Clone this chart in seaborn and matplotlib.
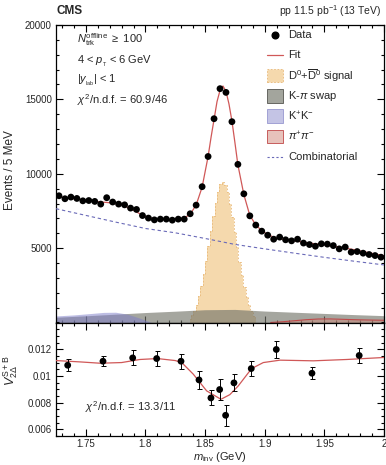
import numpy as np
import pandas as pd
import matplotlib
matplotlib.use("Agg")
import matplotlib.pyplot as plt
import seaborn as sns
from matplotlib.patches import Rectangle
from matplotlib.lines import Line2D
from matplotlib.ticker import MultipleLocator, FuncFormatter

# ---------------- data ----------------
bin_m = [1.7275 + 0.005 * k for k in range(55)]
data_counts = [8520, 8320, 8430, 8340, 8180, 8200, 8140, 7960, 8390, 8100,
               7960, 7910, 7690, 7600, 7190, 7020, 6900, 6950, 6950, 6880,
               6950, 6950, 7310, 7890, 9130, 11160, 13700, 15720, 15470, 13500,
               10630, 8650, 7170, 6550, 6140, 5870, 5600, 5740, 5560, 5490,
               5600, 5340, 5240, 5130, 5290, 5270, 5170, 4950, 5070, 4730,
               4770, 4660, 4570, 4500, 4390]

fit_m = [1.725, 1.7275, 1.7325, 1.7375, 1.7425, 1.7475, 1.7525, 1.7575, 1.7625, 1.7675,
         1.7725, 1.7775, 1.7825, 1.7875, 1.7925, 1.7975, 1.8025, 1.8075, 1.8125, 1.8175,
         1.8225, 1.8275, 1.8325, 1.8375, 1.8425, 1.8475, 1.8525, 1.855, 1.8575, 1.86,
         1.8625, 1.865, 1.8675, 1.87, 1.8725, 1.875, 1.8775, 1.8825, 1.8875, 1.8925,
         1.8975, 1.9025, 1.9075, 1.9125, 1.9175, 1.9225, 1.9275, 1.9325, 1.9375, 1.9425,
         1.9475, 1.9525, 1.9575, 1.9625, 1.9675, 1.9725, 1.9775, 1.9825, 1.9875, 1.9925,
         1.9975, 2.0]
fit_counts = [8470, 8450, 8400, 8350, 8300, 8250, 8200, 8150, 8100, 8070,
              8030, 7950, 7830, 7650, 7430, 7220, 7060, 6970, 6930, 6920,
              6930, 6960, 7030, 7280, 7900, 9100, 11150, 12450, 13650, 14850,
              15600, 15900, 15550, 14700, 13550, 12100, 10600, 8600, 7200, 6560,
              6170, 5910, 5740, 5640, 5570, 5510, 5460, 5400, 5340, 5290,
              5240, 5190, 5130, 5070, 5000, 4930, 4850, 4770, 4690, 4610,
              4530, 4490]

comb_m = [1.725, 1.75, 1.775, 1.80, 1.825, 1.85, 1.875, 1.90, 1.925, 1.95, 1.975, 2.0]
comb_counts = [7650, 7200, 6750, 6320, 6030, 5650, 5250, 4950, 4660, 4380, 4120, 3870]

swap_m = [1.725, 1.75, 1.775, 1.80, 1.825, 1.85, 1.875, 1.90, 1.925, 1.95, 1.975, 2.0]
swap_counts = [350, 450, 560, 670, 760, 860, 880, 770, 690, 610, 530, 460]

kk_m = [1.725, 1.74, 1.755, 1.765, 1.775, 1.785, 1.795, 1.805]
kk_counts = [440, 510, 610, 680, 690, 560, 300, 0]

pipi_m = [1.905, 1.915, 1.925, 1.935, 1.945, 1.955, 1.965, 1.975, 1.985, 2.0]
pipi_counts = [0, 50, 120, 190, 235, 240, 215, 190, 170, 150]

sig_m = [1.837 + 0.002 * i for i in range(29)]
sig_counts = [250, 500, 800, 1200, 1750, 2450, 3250, 4150, 5150, 6150,
              7150, 8050, 8800, 9300, 9450, 9250, 8750, 8000, 7100, 6100,
              5100, 4100, 3200, 2400, 1700, 1150, 750, 450, 220]

v2_m = [1.7348, 1.7644, 1.7893, 1.8094, 1.8298, 1.8449, 1.8549, 1.8622, 1.8672,
        1.8742, 1.8887, 1.9097, 1.9396, 1.9792]
v2_val = [0.0108, 0.0111, 0.01135, 0.0113, 0.0111, 0.0097, 0.00835, 0.00898, 0.00705,
          0.00948, 0.01055, 0.01198, 0.0102, 0.01153]
v2_err = [0.00045, 0.000375, 0.00056, 0.00059, 0.00057, 0.0007, 0.00056, 0.00079,
          0.00078, 0.00063, 0.00059, 0.00066, 0.00046, 0.00053]

v2fit_m = [1.725, 1.745, 1.762, 1.78, 1.7954, 1.81, 1.825, 1.8304, 1.8401, 1.8513,
           1.8633, 1.8708, 1.8778, 1.889, 1.8988, 1.9128, 1.9407, 1.9687, 2.0]
v2fit_val = [0.01115, 0.01105, 0.01095, 0.0110, 0.01123, 0.0113, 0.01115, 0.0110, 0.01013,
             0.00888, 0.00825, 0.0086, 0.00925, 0.01055, 0.0110, 0.01118, 0.01113,
             0.01123, 0.01138]

# ---------------- style ----------------
sns.set_theme(style="ticks")
plt.rcParams['font.family'] = ['Liberation Sans', 'DejaVu Sans']
plt.rcParams['mathtext.fontset'] = 'custom'
plt.rcParams['mathtext.rm'] = 'Liberation Sans'
plt.rcParams['mathtext.it'] = 'Liberation Sans:italic'
plt.rcParams['mathtext.bf'] = 'Liberation Sans:bold'
plt.rcParams['mathtext.sf'] = 'Liberation Sans'

C_FIT = '#d05858'
C_SIG = '#f5d9ad'
C_SIG_EDGE = '#e8b878'
C_SWAP = '#75766c'
C_KK = '#7c7cc8'
C_PIPI = '#d08878'
C_COMB = '#6a6ab8'

fig = plt.figure(figsize=(3.86, 4.65), dpi=100)
L, W = 56 / 386, 328 / 386
ax1 = fig.add_axes([L, 1 - 322.5 / 465, W, 297.5 / 465])
ax2 = fig.add_axes([L, 1 - 436 / 465, W, 113.5 / 465])

# ---------------- top panel ----------------
ax1.fill_between(sig_m, sig_counts, step='mid', color=C_SIG, lw=0, zorder=1)
ax1.step(sig_m, sig_counts, where='mid', color=C_SIG_EDGE, lw=0.6, ls=(0, (2, 2)), zorder=1.1)
ax1.fill_between(swap_m, swap_counts, color=C_SWAP, alpha=0.65, lw=0, zorder=2)
ax1.fill_between(kk_m, kk_counts, color=C_KK, alpha=0.5, lw=0, zorder=2.1)
ax1.fill_between(pipi_m, pipi_counts, color=C_PIPI, alpha=0.45, lw=0, zorder=2.2)
ax1.plot(pipi_m, pipi_counts, color='#c04848', lw=0.8, zorder=2.3)

sns.lineplot(x=comb_m, y=comb_counts, ax=ax1, color=C_COMB, lw=0.8,
             linestyle=(0, (3, 2.5)), estimator=None, sort=False, zorder=3)
sns.lineplot(x=fit_m, y=fit_counts, ax=ax1, color=C_FIT, lw=0.9,
             estimator=None, sort=False, zorder=4)
df = pd.DataFrame({'m': bin_m, 'n': data_counts})
sns.scatterplot(data=df, x='m', y='n', ax=ax1, color='black', s=24,
                edgecolor='none', zorder=5)

ax1.set_xlim(1.725, 2.0)
ax1.set_ylim(0, 20000)
ax1.set_yticks([5000, 10000, 15000, 20000])
ax1.yaxis.set_minor_locator(MultipleLocator(1000))
ax1.xaxis.set_major_locator(MultipleLocator(0.05))
ax1.xaxis.set_minor_locator(MultipleLocator(0.01))
ax1.tick_params(labelbottom=False)
ax1.set_xlabel('')
ax1.set_ylabel('')

# annotations
tk = dict(transform=ax1.transAxes, fontsize=8, va='center', ha='left')
ax1.text(0.063, 0.95, r'$N_{\mathrm{trk}}^{\mathrm{offline}}$ $\geq$ 100', **tk)
ax1.text(0.063, 0.876, r'4 < $p_{_{\mathrm{T}}}$ < 6 GeV', **tk)
ax1.text(0.063, 0.815, r'|$y_{_{\mathrm{lab}}}$| < 1', **tk)
ax1.text(0.063, 0.748, r'$\chi^2$/n.d.f. = 60.9/46', **tk)

# manual legend
rows = [35, 55.3, 75.6, 96, 116.3, 136.6, 157]
ry = [(322.5 - r) / 297.5 for r in rows]
hx0, hx1 = 0.644, 0.693
hh = 0.046
lk = dict(transform=ax1.transAxes, fontsize=8, va='center', ha='left')
ax1.add_line(Line2D([0.668], [ry[0]], marker='o', ms=4.8, color='black', lw=0,
                    transform=ax1.transAxes))
ax1.add_line(Line2D([hx0, hx1], [ry[1], ry[1]], color=C_FIT, lw=0.9, transform=ax1.transAxes))
ax1.add_patch(Rectangle((hx0, ry[2] - hh / 2), hx1 - hx0, hh, transform=ax1.transAxes,
                        facecolor=C_SIG, edgecolor=C_SIG_EDGE, lw=0.6, ls=(0, (2, 2))))
ax1.add_patch(Rectangle((hx0, ry[3] - hh / 2), hx1 - hx0, hh, transform=ax1.transAxes,
                        facecolor=(0.55, 0.56, 0.52, 0.8), edgecolor='#555550', lw=0.6))
ax1.add_patch(Rectangle((hx0, ry[4] - hh / 2), hx1 - hx0, hh, transform=ax1.transAxes,
                        facecolor=(0.49, 0.49, 0.78, 0.45), edgecolor='#9898d0', lw=0.6))
ax1.add_patch(Rectangle((hx0, ry[5] - hh / 2), hx1 - hx0, hh, transform=ax1.transAxes,
                        facecolor=(0.82, 0.53, 0.47, 0.5), edgecolor='#c04848', lw=0.6))
ax1.add_line(Line2D([hx0, hx1], [ry[6], ry[6]], color=C_COMB, lw=0.8, ls=(0, (2, 2)),
                    transform=ax1.transAxes))
ax1.text(0.707, ry[0], 'Data', **lk)
ax1.text(0.707, ry[1], 'Fit', **lk)
ax1.text(0.707, ry[2], r'D$^0$+$\overline{\mathrm{D}}^0$ signal', **lk)
ax1.text(0.707, ry[3], r'K-$\pi$ swap', **lk)
ax1.text(0.707, ry[4], r'K$^{+}$K$^{-}$', **lk)
ax1.text(0.707, ry[5], r'$\pi^{+}\pi^{-}$', **lk)
ax1.text(0.707, ry[6], 'Combinatorial', **lk)

# ---------------- bottom panel ----------------
ax2.errorbar(v2_m, v2_val, yerr=v2_err, fmt='none', ecolor='black', elinewidth=0.7,
             capsize=1.8, capthick=0.7, zorder=4)
sns.lineplot(x=v2fit_m, y=v2fit_val, ax=ax2, color=C_FIT, lw=0.9,
             estimator=None, sort=False, zorder=3)
sns.scatterplot(x=v2_m, y=v2_val, ax=ax2, color='black', s=24, edgecolor='none', zorder=5)
ax2.set_xlim(1.725, 2.0)
ax2.set_ylim(0.0055, 0.014)
ax2.set_yticks([0.006, 0.008, 0.010, 0.012])
ax2.yaxis.set_minor_locator(MultipleLocator(0.0005))
ax2.xaxis.set_major_locator(MultipleLocator(0.05))
ax2.xaxis.set_minor_locator(MultipleLocator(0.01))
fmt = FuncFormatter(lambda v, p: '%g' % round(v, 4))
ax2.yaxis.set_major_formatter(fmt)
ax2.xaxis.set_major_formatter(fmt)
ax2.set_xlabel('')
ax2.set_ylabel('')
ax2.text(0.088, 0.258, r'$\chi^2$/n.d.f. = 13.3/11', transform=ax2.transAxes,
         fontsize=8, va='center', ha='left')

for ax in (ax1, ax2):
    ax.tick_params(which='both', direction='in', top=True, right=True, labelsize=7,
                   width=0.8, color='black', pad=3)
    ax.tick_params(which='major', length=5)
    ax.tick_params(which='minor', length=2.5)
    for s in ax.spines.values():
        s.set_linewidth(0.9)
        s.set_color('black')
ax2.tick_params(axis='x', which='both', pad=2)

# figure texts
fig.text(56.5 / 386, 1 - 11.5 / 465, 'CMS', fontsize=8.5, fontweight='bold',
         ha='left', va='center')
fig.text(381 / 386, 1 - 11 / 465, r'pp 11.5 pb$^{-1}$ (13 TeV)', fontsize=7.5,
         ha='right', va='center')
fig.text(10 / 386, 1 - 170 / 465, 'Events / 5 MeV', rotation=90, fontsize=8.5,
         ha='center', va='center')
fig.text(11 / 386, 1 - 371 / 465, r'$V_{2\Delta}^{\mathrm{S+B}}$', rotation=90, fontsize=9,
         ha='center', va='center')
fig.text(220 / 386, 1 / 465, r'$m_{\mathrm{inv}}$ (GeV)', fontsize=8,
         ha='center', va='bottom')

fig.savefig('out.png', dpi=100)
